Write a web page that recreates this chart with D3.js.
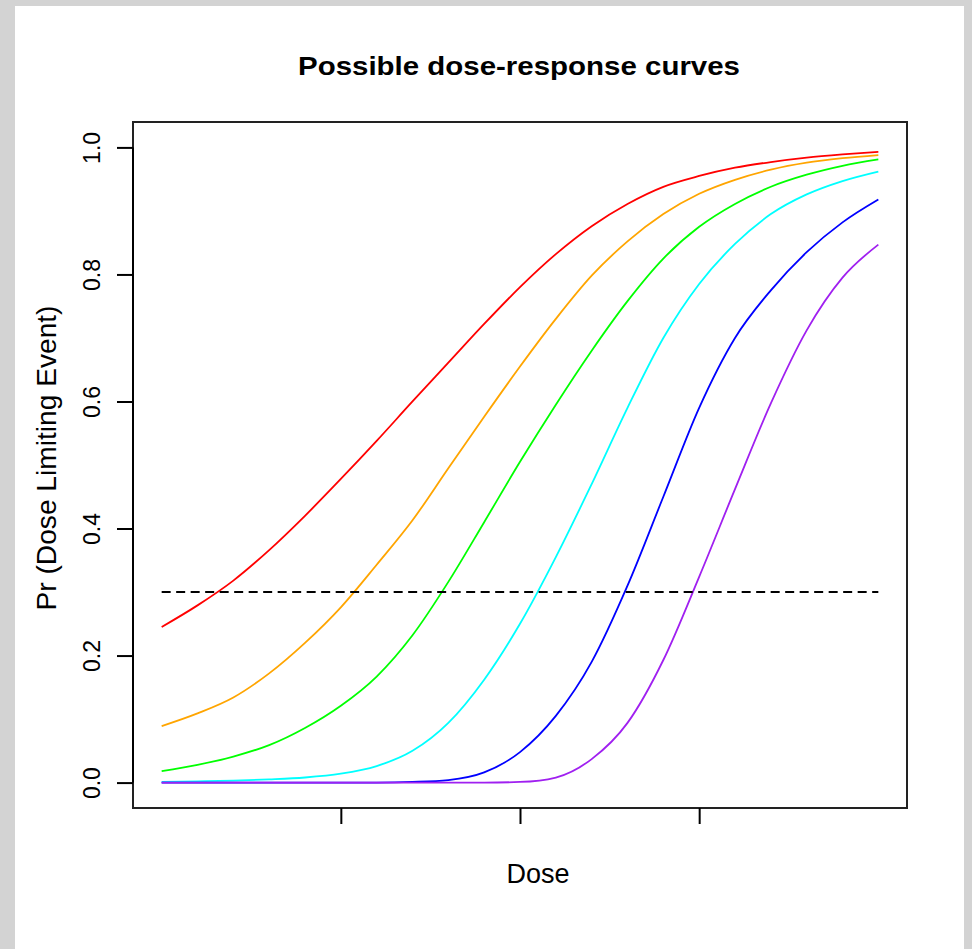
<!DOCTYPE html>
<html>
<head>
<meta charset="utf-8">
<script src="https://cdn.jsdelivr.net/npm/d3@7"></script>
<style>
    html, body { margin: 0; padding: 0; background: #d3d3d3; }
    svg { display: block; }
    text { font-family: "Liberation Sans", Arial, sans-serif; fill: #000; }
</style>
</head>
<body>
<svg id="chart" width="972" height="949"></svg>
<script>
// dose grid (relative units, ticks drawn without labels)
const doses = [0, 0.05, 0.1, 0.15, 0.2, 0.25, 0.3, 0.35, 0.4, 0.45, 0.5,
               0.55, 0.6, 0.65, 0.7, 0.75, 0.8, 0.85, 0.9, 0.95, 1.0];

// probability of a dose limiting event
const redCurve    = [0.245, 0.279, 0.318, 0.366, 0.420, 0.478, 0.538, 0.600, 0.661, 0.722, 0.780,
                     0.832, 0.876, 0.911, 0.938, 0.955, 0.968, 0.977, 0.984, 0.989, 0.993];
const orangeCurve = [0.089, 0.109, 0.134, 0.172, 0.220, 0.276, 0.343, 0.413, 0.495, 0.576, 0.655,
                     0.730, 0.798, 0.852, 0.895, 0.927, 0.949, 0.965, 0.976, 0.983, 0.988];
const greenCurve  = [0.018, 0.028, 0.041, 0.059, 0.086, 0.121, 0.167, 0.232, 0.316, 0.410, 0.505,
                     0.595, 0.680, 0.758, 0.825, 0.875, 0.911, 0.938, 0.957, 0.971, 0.981];
const cyanCurve   = [0.001, 0.002, 0.003, 0.005, 0.008, 0.014, 0.026, 0.050, 0.094, 0.162, 0.250,
                     0.355, 0.470, 0.590, 0.700, 0.785, 0.848, 0.895, 0.926, 0.947, 0.962];
const blueCurve   = [0.000, 0.000, 0.000, 0.000, 0.000, 0.000, 0.000, 0.001, 0.004, 0.016, 0.048,
                     0.105, 0.190, 0.310, 0.450, 0.590, 0.700, 0.775, 0.835, 0.882, 0.918];
const purpleCurve = [0.000, 0.000, 0.000, 0.000, 0.000, 0.000, 0.000, 0.000, 0.000, 0.000, 0.001,
                     0.008, 0.037, 0.094, 0.193, 0.324, 0.462, 0.597, 0.712, 0.795, 0.847];

const seriesNames  = ["red", "orange", "green", "cyan", "blue", "purple"];
const seriesValues = [redCurve, orangeCurve, greenCurve, cyanCurve, blueCurve, purpleCurve];
const seriesColors = ["#ff0000", "#ffa500", "#00ff00", "#00ffff", "#0000ff", "#a020f0"];

const targetRate = 0.3;
const xTicks = [0.25, 0.5, 0.75];
const yTicks = [0, 0.2, 0.4, 0.6, 0.8, 1.0];

const svg = d3.select("#chart");

// white page on the grey frame
svg.append("rect")
    .attr("x", 15).attr("y", 6)
    .attr("width", 949).attr("height", 943)
    .attr("fill", "#fff");

// plot region (R pads the data range by 4%)
const box = { left: 133, right: 907, top: 122, bottom: 808 };

const x = d3.scaleLinear()
    .domain([-0.04, 1.04])
    .range([box.left, box.right]);

const y = d3.scaleLinear()
    .domain([-0.04, 1.04])
    .range([box.bottom, box.top]);

// curves
const line = d3.line()
    .x((d, i) => x(doses[i]))
    .y(d => y(d))
    .curve(d3.curveMonotoneX);

svg.append("g")
    .selectAll("path")
    .data(seriesValues)
    .join("path")
    .attr("class", (d, i) => "curve " + seriesNames[i])
    .attr("d", line)
    .attr("fill", "none")
    .attr("stroke", (d, i) => seriesColors[i])
    .attr("stroke-width", 1.8);

// target toxicity rate
svg.append("line")
    .attr("x1", x(doses[0]))
    .attr("x2", x(doses[doses.length - 1]))
    .attr("y1", y(targetRate))
    .attr("y2", y(targetRate))
    .attr("stroke", "#000")
    .attr("stroke-width", 2)
    .attr("stroke-dasharray", "9,5.5");

// box around the plot
svg.append("rect")
    .attr("x", box.left).attr("y", box.top)
    .attr("width", box.right - box.left)
    .attr("height", box.bottom - box.top)
    .attr("fill", "none")
    .attr("stroke", "#222")
    .attr("stroke-width", 2);

// x axis: ticks only
const xAxis = svg.append("g")
    .attr("transform", `translate(0,${box.bottom})`)
    .call(d3.axisBottom(x).tickValues(xTicks).tickSize(16).tickFormat(""));
xAxis.select(".domain").remove();
xAxis.selectAll("line").attr("stroke", "#000").attr("stroke-width", 2);

// y axis: ticks with labels parallel to the axis
const yAxis = svg.append("g")
    .attr("transform", `translate(${box.left},0)`)
    .call(d3.axisLeft(y).tickValues(yTicks).tickSize(16).tickFormat(d3.format(".1f")));
yAxis.select(".domain")
    .attr("d", `M0,${y(0)}V${y(1)}`)
    .attr("stroke", "#000")
    .attr("stroke-width", 2);
yAxis.selectAll("line").attr("stroke", "#000").attr("stroke-width", 2);
yAxis.selectAll("text")
    .attr("x", null).attr("dy", null)
    .attr("transform", "translate(-33,0) rotate(-90)")
    .attr("text-anchor", "middle")
    .style("font-size", "23px")
    .style("font-family", "'Liberation Sans', Arial, sans-serif")
    .attr("fill", "#000");

// title and axis labels
svg.append("text")
    .attr("x", 519).attr("y", 75)
    .attr("text-anchor", "middle")
    .attr("font-size", "26px")
    .attr("font-weight", "bold")
    .attr("textLength", 442)
    .attr("lengthAdjust", "spacingAndGlyphs")
    .text("Possible dose-response curves");

svg.append("text")
    .attr("x", 538).attr("y", 883)
    .attr("text-anchor", "middle")
    .attr("font-size", "27px")
    .text("Dose");

svg.append("text")
    .attr("transform", "translate(56,458) rotate(-90)")
    .attr("text-anchor", "middle")
    .attr("font-size", "27px")
    .attr("textLength", 305)
    .attr("lengthAdjust", "spacingAndGlyphs")
    .text("Pr (Dose Limiting Event)");
</script>
</body>
</html>
